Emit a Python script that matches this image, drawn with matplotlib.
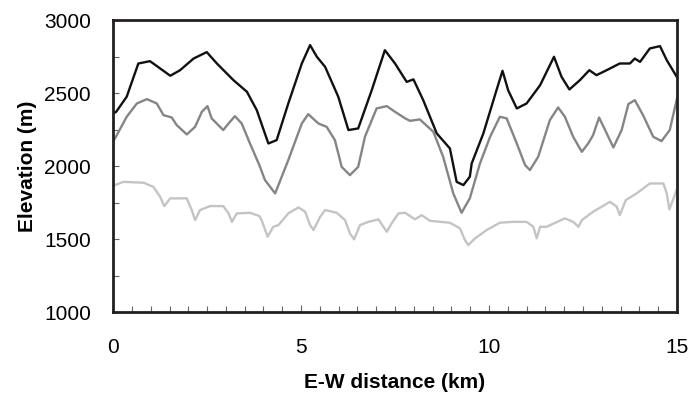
import numpy as np
import matplotlib
matplotlib.use("Agg")
import matplotlib.pyplot as plt
from matplotlib.ticker import MultipleLocator

plt.rcParams['font.family'] = ['Liberation Sans', 'DejaVu Sans']

# upper profile (black)
x_top = [0.0, 0.08, 0.36, 0.67, 0.98, 1.25, 1.52, 1.78, 2.14, 2.49, 2.76, 3.2, 3.56, 3.82,
         4.13, 4.35, 4.66, 5.02, 5.24, 5.42, 5.64, 5.99, 6.26, 6.52, 6.88, 7.23, 7.5, 7.81,
         7.99, 8.25, 8.61, 8.96, 9.14, 9.32, 9.49, 9.54, 9.85, 10.2, 10.36, 10.51, 10.74,
         11.0, 11.36, 11.73, 11.93, 12.14, 12.42, 12.67, 12.86, 13.13, 13.48, 13.75, 13.88,
         14.02, 14.28, 14.55, 14.73, 15.0]
y_top = [2360, 2372, 2475, 2703, 2719, 2669, 2619, 2657, 2737, 2781, 2703, 2589, 2509, 2384,
         2155, 2178, 2429, 2703, 2829, 2749, 2680, 2475, 2247, 2258, 2520, 2794, 2703, 2577,
         2594, 2452, 2224, 2121, 1892, 1870, 1927, 2018, 2224, 2520, 2653, 2520, 2395,
         2429, 2554, 2749, 2612, 2525, 2589, 2657, 2623, 2657, 2703, 2703, 2737,
         2714, 2806, 2822, 2726, 2610]

# middle profile (grey)
x_mid = [0.0, 0.05, 0.36, 0.63, 0.9, 1.16, 1.34, 1.56, 1.69, 1.96, 2.18, 2.36, 2.51, 2.62,
         2.93, 3.07, 3.24, 3.42, 3.64, 3.89, 4.04, 4.31, 4.66, 5.02, 5.19, 5.46, 5.68, 5.9,
         6.08, 6.3, 6.52, 6.7, 7.01, 7.28, 7.5, 7.77, 7.9, 8.16, 8.52, 8.78, 9.05, 9.27,
         9.49, 9.76, 10.03, 10.29, 10.47, 10.74, 10.96, 11.09, 11.31, 11.62, 11.84, 12.02,
         12.24, 12.47, 12.64, 12.77, 12.93, 13.09, 13.31, 13.53, 13.71, 13.88, 14.1, 14.37,
         14.59, 14.81, 15.0]
y_mid = [2175, 2190, 2338, 2429, 2459, 2429, 2349, 2333, 2281, 2217, 2269, 2372, 2411, 2327,
         2247, 2292, 2342, 2292, 2155, 2007, 1904, 1813, 2041, 2292, 2356, 2292, 2269, 2178,
         1995, 1938, 1995, 2201, 2395, 2411, 2372, 2327, 2310, 2320, 2235, 2064, 1813, 1680,
         1779, 2018, 2201, 2338, 2327, 2155, 2007, 1973, 2064, 2315, 2402, 2338,
         2201, 2098, 2155, 2212, 2333, 2247, 2128, 2247, 2425, 2452, 2349, 2201,
         2171, 2247, 2460]

# lower profile (light grey)
x_low = [0.0, 0.05, 0.27, 0.81, 1.07, 1.25, 1.36, 1.52, 1.96, 2.09, 2.18, 2.31, 2.58, 2.93,
         3.07, 3.16, 3.29, 3.64, 3.89, 3.95, 4.11, 4.26, 4.4, 4.66, 4.93, 5.11, 5.24, 5.33,
         5.51, 5.64, 5.95, 6.17, 6.3, 6.41, 6.57, 6.79, 7.06, 7.19, 7.28, 7.41, 7.59, 7.77,
         8.03, 8.21, 8.43, 8.96, 9.23, 9.36, 9.45, 9.63, 9.94, 10.29, 10.65, 11.0, 11.18,
         11.27, 11.36, 11.53, 12.02, 12.24, 12.38, 12.47, 12.77, 13.22, 13.4, 13.48, 13.64,
         13.93, 14.28, 14.64, 14.73, 14.8, 15.0]
y_low = [1860, 1870, 1892, 1886, 1858, 1790, 1726, 1779, 1779, 1699, 1630, 1699, 1726, 1726,
         1676, 1618, 1676, 1680, 1658, 1630, 1516, 1584, 1596, 1676, 1717, 1687, 1596, 1562,
         1653, 1699, 1680, 1630, 1539, 1498, 1596, 1618, 1635, 1584, 1550, 1608, 1676, 1680,
         1635, 1664, 1625, 1612, 1573, 1493, 1459, 1505, 1562, 1612, 1618, 1618, 1584,
         1505, 1584, 1584, 1642, 1618, 1584, 1630, 1687, 1755, 1722, 1664, 1767,
         1813, 1881, 1881, 1813, 1703, 1840]

fig, ax = plt.subplots(figsize=(6.9, 3.95), dpi=100)
fig.subplots_adjust(left=0.164, right=0.981, top=0.949, bottom=0.21)

ax.plot(x_low, y_low, color='#c4c4c4', lw=1.7)
ax.plot(x_mid, y_mid, color='#858585', lw=1.7)
ax.plot(x_top, y_top, color='#111111', lw=1.7)

ax.set_xlim(0, 15)
ax.set_ylim(1000, 3000)
ax.xaxis.set_major_locator(MultipleLocator(5))
ax.xaxis.set_minor_locator(MultipleLocator(0.5))
ax.yaxis.set_major_locator(MultipleLocator(500))
ax.yaxis.set_minor_locator(MultipleLocator(250))
ax.tick_params(which='both', direction='in', color='#666666', width=0.8,
               labelsize=15, top=False, right=False)
ax.tick_params(axis='x', which='major', length=5, pad=19)
ax.tick_params(axis='x', which='minor', length=4)
ax.tick_params(axis='y', which='both', length=4, pad=16)

for s in ax.spines.values():
    s.set_color('#231f20')
    s.set_linewidth(2)

ax.set_xlabel('E-W distance (km)', fontsize=15, fontweight='bold', labelpad=11)
ax.set_ylabel('Elevation (m)', fontsize=15, fontweight='bold', labelpad=5)

fig.savefig('out.png', dpi=100)
